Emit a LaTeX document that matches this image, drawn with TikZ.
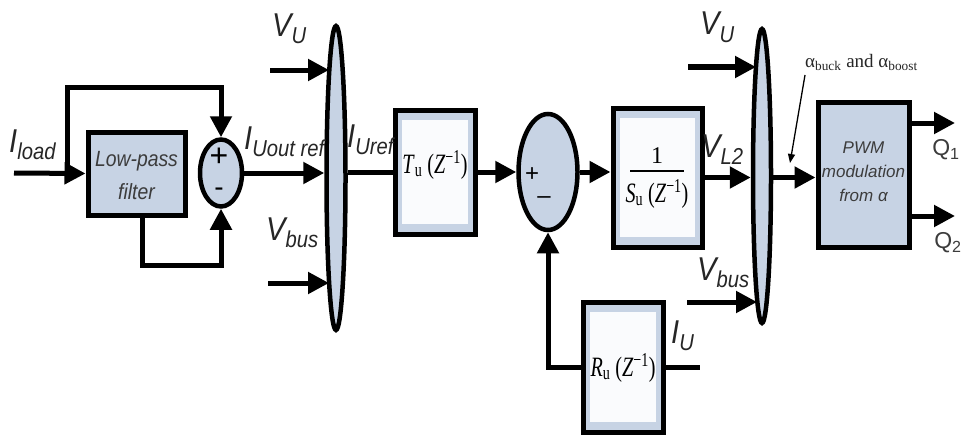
\documentclass[tikz,border=0pt]{standalone}
\usepackage{fontspec}
\setmainfont{Liberation Sans}
\newfontfamily\serf{Liberation Serif}
\usetikzlibrary{arrows.meta,shapes.geometric}
\definecolor{boxblue}{RGB}{199,211,228}
\definecolor{txtgray}{RGB}{60,60,60}
\definecolor{inwhite}{RGB}{250,251,253}
\newcommand\lab[2]{\scalebox{0.88}[1]{\fontsize{33}{33}\selectfont\itshape #1\raisebox{-7pt}{\fontsize{23}{23}\selectfont #2}}}
\newcommand\tfun[2]{\scalebox{0.72}[1]{\serf\fontsize{28}{28}\selectfont\textit{#1}\textsubscript{#2}\ (\textit{Z}\textsuperscript{−1})}}
\begin{document}
\begin{tikzpicture}[x=1pt,y=-1pt,
  wire/.style={line width=5pt},
  arr/.style={wire,-{Triangle[length=21pt,width=21pt]}},
  thinarr/.style={line width=1.3pt,-{Triangle[length=9pt,width=7pt]}},
  blk/.style={draw,line width=5pt,fill=boxblue,rectangle,inner sep=0pt},
  inblk/.style={blk,path picture={\fill[inwhite] ([shift={(7pt,-10pt)}]path picture bounding box.north west) rectangle ([shift={(-7pt,10pt)}]path picture bounding box.south east);}},
  sumj/.style={draw,ellipse,line width=4.5pt,fill=boxblue,inner sep=0pt},
  lbl/.style={inner sep=0pt,anchor=base west,text=black!85},
  sgn/.style={inner sep=0pt,font=\fontsize{32}{32}\selectfont},
]
\useasboundingbox (0,0) rectangle (971,436);

% blocks
\node[blk,minimum width=97pt,minimum height=83pt] (lpf) at (136.5,173.5) {};
\node[inner sep=0pt,align=center,text=txtgray,font=\fontsize{22}{33}\selectfont\itshape] (lpft) at (136.5,176) {\scalebox{0.88}[1]{Low-pass}\\\scalebox{0.88}[1]{filter}};
\node[sumj,minimum width=42pt,minimum height=67pt] (s1) at (221,173) {};
\node[sgn] (s1p) at (219,157) {+};
\node[sgn,font=\fontsize{28}{28}\selectfont] (s1m) at (219,192) {-};
\node[sumj,minimum width=19pt,minimum height=304pt] (e1) at (336,178) {};
\node[inblk,minimum width=80pt,minimum height=124pt] (tu) at (435,172) {};
\node[inner sep=0pt] (tut) at (435,165) {\tfun{T}{u}};
\node[sumj,minimum width=59pt,minimum height=116pt] (s2) at (548,172) {};
\node[sgn,font=\fontsize{24}{24}\selectfont] (s2p) at (532,175) {+};
\node[sgn,font=\fontsize{24}{24}\selectfont] (s2m) at (544,200) {\textendash};
\node[inblk,minimum width=89pt,minimum height=139pt] (su) at (657.5,177.5) {};
\node[inner sep=0pt,font=\serf\fontsize{24}{24}\selectfont] (su1) at (657,156) {1};
\draw[line width=1.4pt] (630,171) -- (684,171);
\node[inner sep=0pt] (sut) at (657,194) {\tfun{S}{u}};
\node[sumj,minimum width=18pt,minimum height=294pt] (e2) at (762,176) {};
\node[blk,minimum width=91pt,minimum height=145pt] (pwm) at (863.5,174.5) {};
\node[inner sep=0pt,align=center,text=txtgray,font=\fontsize{17}{24}\selectfont\itshape] (pwmt) at (863.5,172) {PWM\\modulation\\from α};
\node[inblk,minimum width=80pt,minimum height=130pt] (ru) at (623,367) {};
\node[inner sep=0pt] (rut) at (623,368) {\tfun{R}{u}};

% coordinates
\coordinate (in) at (14,173);
\coordinate (br) at (67,173);
\coordinate (top) at (221,87);
\coordinate (bot) at (221,265);
\coordinate (vu1) at (270,70);
\coordinate (vu1e) at (329,70);
\coordinate (vb1) at (268,283);
\coordinate (vb1e) at (329,283);
\coordinate (vu2) at (688,67);
\coordinate (vu2e) at (756,67);
\coordinate (vb2) at (687,302);
\coordinate (vb2e) at (757,302);
\coordinate (q1) at (955,123);
\coordinate (q2) at (955,216);
\coordinate (iu) at (700,367);
\coordinate (al1) at (805,75);
\coordinate (al2) at (790,163);

% connectors
\draw[arr] (in) -- (lpf.west);
\draw[arr] (br) |- (top) -- (s1.north);
\draw[arr] ([xshift=5.5pt]lpf.south) |- (bot) -- (s1.south);
\draw[arr] (s1.east) -- (s1.east -| e1.west);
\draw[arr] (vu1) -- (vu1e);
\draw[arr] (vb1) -- (vb1e);
\draw[wire] (e1.east |- tu.west) -- (tu.west);
\draw[arr] (tu.east) -- (s2.west);
\draw[arr] (s2.east) -- (s2.east -| su.west);
\draw[arr] (su.east) -- (su.east -| e2.west);
\draw[arr] (vu2) -- (vu2e);
\draw[arr] (vb2) -- (vb2e);
\draw[arr] (e2.east |- su.east) -- (pwm.west |- su.east);
\draw[arr] (pwm.east |- q1) -- (q1);
\draw[arr] (pwm.east |- q2) -- (q2);
\draw[arr] (ru.west) -| (s2.south);
\draw[wire] (ru.east) -- (iu);
\draw[thinarr] (al1) -- (al2);

% labels
\node[lbl] (lload) at (9,152) {\lab{I}{load}};
\node[lbl] (lout) at (244,149) {\lab{I}{Uout ref}};
\node[lbl] (lvu1) at (272,37) {\lab{V}{U}};
\node[lbl] (lvb1) at (266,240) {\lab{V}{bus}};
\node[lbl] (luref) at (347,147) {\lab{I}{Uref}};
\node[lbl] (lvu2) at (700,35) {\lab{V}{U}};
\node[lbl] (lvl2) at (701,157) {\lab{V}{L2}};
\node[lbl] (lvb2) at (697,280) {\lab{V}{bus}};
\node[lbl] (liu) at (671,343) {\lab{I}{U}};
\node[lbl] (lal) at (805,67) {\serf\fontsize{19}{19}\selectfont α\textsubscript{buck} and α\textsubscript{boost}};
\node[inner sep=0pt,text=txtgray] (lq1) at (946,150) {\fontsize{23}{23}\selectfont Q\textsubscript{1}};
\node[inner sep=0pt,text=txtgray] (lq2) at (948,243) {\fontsize{23}{23}\selectfont Q\textsubscript{2}};
\end{tikzpicture}
\end{document}
